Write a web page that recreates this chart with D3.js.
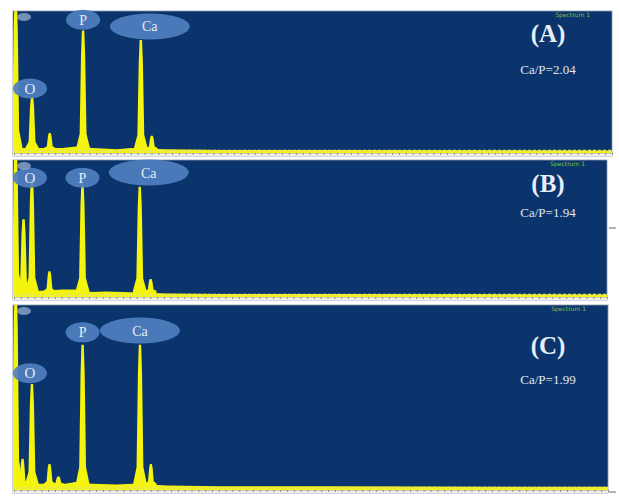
<!DOCTYPE html>
<html>
<head>
<meta charset="utf-8">
<script src="https://cdn.jsdelivr.net/npm/d3@7"></script>
<style>
  body { margin: 0; background: #fff; }
  svg { display: block; }
</style>
</head>
<body>
<svg width="619" height="497"></svg>
<script>
  // EDS spectra, energy in keV, counts in % of panel height
  const panelNames = ["(A)", "(B)", "(C)"];
  const ratios = ["Ca/P=2.04", "Ca/P=1.94", "Ca/P=1.99"];
  const elements = ["O", "P", "Ca"];
  const elementEnergy = [0.525, 2.01, 3.69];

  // peaks: [energy, height]
  const peaksA = [[0.05, 110], [0.525, 38], [1.04, 11], [2.01, 87], [3.69, 80], [4.01, 9]];
  const peaksB = [[0.05, 110], [0.28, 55], [0.525, 86], [1.04, 15], [2.01, 82], [3.69, 80], [4.01, 9]];
  const peaksC = [[0.05, 110], [0.25, 14], [0.525, 56], [1.04, 11], [1.3, 4], [2.01, 78], [3.69, 78], [4.01, 11]];

  // background counts: [energy, height]
  const bgA = [[0.1, 3], [0.8, 3], [1.4, 3], [1.8, 4], [2.3, 3], [3.0, 2], [3.4, 3], [4.4, 2], [6, 1.5], [9, 1.5], [17.4, 1.2]];
  const bgB = [[0.1, 4], [0.8, 4], [1.4, 5], [1.8, 5], [2.3, 3], [2.7, 3.5], [3.2, 3], [4.5, 2], [6, 1.5], [9, 1.5], [17.4, 1.2]];
  const bgC = [[0.1, 3], [0.8, 3], [1.5, 3], [1.8, 4], [2.3, 3], [3.0, 2.5], [3.5, 3], [4.5, 2], [6, 1.5], [9, 1.5], [17.4, 1.2]];

  // label bubble heights (% of panel) per panel for O, P, Ca
  const bubbleA = [47, 98, 93];
  const bubbleB = [91, 91, 95];
  const bubbleC = [65, 88, 89];
  const caShift = [9, 9, 0];

  const panels = [
    { top: 11, bottom: 156, right: 612, peaks: peaksA, bg: bgA, bub: bubbleA },
    { top: 160, bottom: 300, right: 607, peaks: peaksB, bg: bgB, bub: bubbleB },
    { top: 305, bottom: 493, right: 608, peaks: peaksC, bg: bgC, bub: bubbleC }
  ];

  const svg = d3.select("svg");
  const left = 13;
  const bgColor = "#0b346d";
  const serif = "'Liberation Serif', 'DejaVu Serif', serif";

  panels.forEach((p, i) => {
    const base = p.bottom - 4;
    const x = d3.scaleLinear().domain([0, 17.4]).range([left + 1, p.right]);
    const y = d3.scaleLinear().domain([0, 100]).range([base, p.top + 6]);

    const g = svg.append("g");
    const clipId = "clip" + i;
    g.append("clipPath").attr("id", clipId)
      .append("rect").attr("x", left).attr("y", p.top)
      .attr("width", p.right - left).attr("height", base - p.top + 1);

    g.append("rect")
      .attr("x", left).attr("y", p.top)
      .attr("width", p.right - left).attr("height", p.bottom - p.top)
      .attr("fill", bgColor)
      .attr("stroke", "#8a96a8").attr("stroke-width", 0.8);

    const plot = g.append("g").attr("clip-path", `url(#${clipId})`);

    // background
    plot.append("path")
      .datum(p.bg)
      .attr("d", d3.area().x(d => x(d[0])).y0(base + 1).y1(d => y(d[1])))
      .attr("fill", "#f2f20a");

    // peaks
    const shape = [[-0.2, 0], [-0.1, 0.12], [-0.06, 0.8], [-0.035, 1], [0.035, 1], [0.06, 0.8], [0.1, 0.12], [0.2, 0]];
    plot.selectAll("path.peak")
      .data(p.peaks)
      .join("path")
      .attr("class", "peak")
      .attr("d", pk => d3.area()
        .x(s => x(pk[0] + s[0] * (pk[1] > 30 ? 1 : 0.85)))
        .y0(base + 1)
        .y1(s => y(p.bg[0][1] + s[1] * pk[1]))(shape))
      .attr("fill", "#f4f40c");

    // baseline noise
    plot.append("line")
      .attr("x1", left).attr("x2", p.right)
      .attr("y1", base - 1).attr("y2", base - 1)
      .attr("stroke", "#e8e85a").attr("stroke-width", 2.5)
      .attr("stroke-dasharray", "3,2");

    // tick strip
    const axis = d3.axisBottom(x).ticks(80).tickSize(2).tickFormat("");
    g.append("rect")
      .attr("x", left).attr("y", base + 1)
      .attr("width", p.right - left).attr("height", 3)
      .attr("fill", "#eef0ee");
    const ax = g.append("g").attr("transform", `translate(0,${base + 1})`).call(axis);
    ax.select(".domain").attr("stroke", "#b0b4a0").attr("stroke-width", 0.6);
    ax.selectAll(".tick line").attr("stroke", "#8a8f70").attr("stroke-width", 1);

    // element bubbles
    elements.forEach((el, k) => {
      const cx = x(elementEnergy[k]) + (el === "Ca" ? caShift[i] : el === "O" ? -2 : 0);
      const cy = y(p.bub[k]);
      const rx = el === "Ca" ? 40 : 17;
      const ry = el === "Ca" ? 13 : 10;
      g.append("ellipse")
        .attr("cx", cx).attr("cy", cy).attr("rx", rx).attr("ry", ry)
        .attr("fill", "#4f7fbf").attr("opacity", 0.92);
      g.append("text")
        .attr("x", cx).attr("y", cy + 5)
        .attr("text-anchor", "middle")
        .attr("font-family", serif).attr("font-size", el === "O" ? 15 : 14)
        .attr("fill", "#e4ecf6")
        .text(el);
    });

    // small marker bubble at top-left
    g.append("ellipse")
      .attr("cx", left + 11).attr("cy", p.top + 6).attr("rx", 7).attr("ry", 4)
      .attr("fill", "#8fa8c8").attr("opacity", 0.8);

    // titles
    g.append("text")
      .attr("x", p.right - 22).attr("y", p.top + 6)
      .attr("text-anchor", "end")
      .attr("font-family", "'DejaVu Sans', sans-serif").attr("font-size", 6)
      .attr("fill", "#7cc040")
      .text("Spectrum 1");
    const titleY = [42, 192, 354][i];
    const ratioY = [74, 217, 384][i];
    g.append("text")
      .attr("x", 548).attr("y", titleY)
      .attr("text-anchor", "middle")
      .attr("font-family", serif).attr("font-size", 25).attr("font-weight", "bold")
      .attr("fill", "#e8eef8")
      .text(panelNames[i]);
    g.append("text")
      .attr("x", 548).attr("y", ratioY)
      .attr("text-anchor", "middle")
      .attr("font-family", serif).attr("font-size", 13)
      .attr("fill", "#dfe7f2")
      .text(ratios[i]);
  });

  // outer ticks on right edge
  svg.append("line").attr("x1", 609).attr("x2", 616).attr("y1", 228).attr("y2", 228)
    .attr("stroke", "#666").attr("stroke-width", 1);
  svg.append("line").attr("x1", 609).attr("x2", 616).attr("y1", 492).attr("y2", 492)
    .attr("stroke", "#666").attr("stroke-width", 1);
</script>
</body>
</html>
